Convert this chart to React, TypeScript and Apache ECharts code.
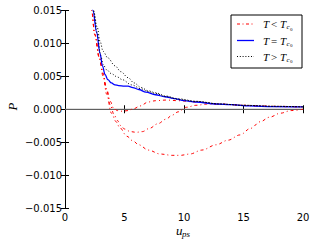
import React, { useEffect, useRef } from "react";
import * as echarts from "echarts";

const xTicks = [0, 5, 10, 15, 20];
const yTicks = [-0.015, -0.01, -0.005, 0, 0.005, 0.01, 0.015];

const uRedA = [2.0, 2.24, 2.5, 2.9, 3.2, 3.5, 3.8, 4.1, 4.4, 4.8, 5.3, 5.8, 6.3, 7.0, 7.6, 8.5, 9.5, 11, 13, 15, 17.5, 20];
const pRedA = [0.019, 0.015, 0.0114, 0.0078, 0.0055, 0.0031, 0.0012, 0.0001, -0.0002, -0.0003, -0.0002, 0.0001, 0.0005, 0.0011, 0.0013, 0.0014, 0.0013, 0.0011, 0.0008, 0.0006, 0.00045, 0.00036];

const uRedB = [2.0, 2.24, 2.5, 2.9, 3.2, 3.5, 3.8, 4.1, 4.4, 4.7, 5.0, 5.5, 6.0, 6.5, 7.1, 7.8, 8.5, 9.0, 9.5, 10.2, 11, 12, 14, 16, 18, 20];
const pRedB = [0.019, 0.015, 0.0114, 0.0078, 0.0053, 0.0028, 0.0007, -0.0007, -0.0017, -0.0025, -0.003, -0.0034, -0.0035, -0.0034, -0.0029, -0.0022, -0.0015, -0.0009, -0.0004, 0.0003, 0.0006, 0.0008, 0.0007, 0.0005, 0.0004, 0.00035];

const uRedC = [2.0, 2.24, 2.5, 2.9, 3.2, 3.5, 3.9, 4.3, 4.6, 5.2, 5.7, 6.2, 7.0, 8.0, 9.0, 9.7, 10.5, 11.5, 12.7, 13.7, 14.7, 15.6, 16.4, 17.2, 18.1, 19, 20];
const pRedC = [0.019, 0.015, 0.0113, 0.0076, 0.005, 0.0023, -0.0006, -0.0019, -0.0028, -0.0041, -0.0048, -0.0054, -0.0062, -0.0068, -0.007, -0.007, -0.0068, -0.0062, -0.0054, -0.0047, -0.0039, -0.0029, -0.0019, -0.0012, -0.0006, -0.0002, 0.0];

const uBlue = [2.1, 2.35, 2.66, 2.94, 3.15, 3.36, 3.6, 3.9, 4.2, 4.5, 5.0, 5.3, 5.7, 6.2, 6.8, 7.6, 8.4, 9.2, 10, 11, 12.7, 14, 15.5, 17.5, 20];
const pBlue = [0.0185, 0.015, 0.0117, 0.0085, 0.0066, 0.0053, 0.0045, 0.004, 0.0037, 0.0036, 0.0035, 0.0035, 0.0033, 0.003, 0.0026, 0.0022, 0.0019, 0.0016, 0.0013, 0.0011, 0.0008, 0.0007, 0.0005, 0.0004, 0.00035];

const uBlackA = [2.1, 2.4, 2.7, 2.95, 3.2, 3.6, 4.2, 4.7, 5.3, 5.8, 6.4, 7.0, 7.6, 8.5, 9.5, 11, 13, 15, 17.5, 20];
const pBlackA = [0.019, 0.015, 0.0125, 0.0103, 0.0088, 0.0078, 0.0066, 0.0057, 0.0048, 0.004, 0.0033, 0.0028, 0.0025, 0.002, 0.0016, 0.0012, 0.0008, 0.0006, 0.00045, 0.00036];

const uBlackB = [2.1, 2.4, 2.7, 3.0, 3.2, 3.5, 3.9, 4.4, 4.8, 5.6, 6.4, 7.0, 7.6, 8.5, 9.5, 11, 13, 15, 17.5, 20];
const pBlackB = [0.019, 0.0148, 0.0115, 0.0082, 0.0068, 0.006, 0.0054, 0.0049, 0.0045, 0.0037, 0.0031, 0.0027, 0.0024, 0.0019, 0.0015, 0.0012, 0.0008, 0.0006, 0.00045, 0.00036];

const legendLabels = ["<", "=", ">"];

const pts = (u: number[], p: number[]) => u.map((x, i) => [x, p[i]]);

function fmtY(v: number) {
  if (Math.abs(v) < 1e-9) return "0.000";
  const s = v.toFixed(3);
  return s.replace("-", "\u2212");
}

export default function App() {
  const ref = useRef<HTMLDivElement>(null);
  useEffect(() => {
    if (!ref.current) return;
    const chart = echarts.init(ref.current, null, { renderer: "svg" });
    const tickFont = { fontFamily: "DejaVu Sans", fontSize: 10, color: "#000" };
    const lineBase = { type: "line", showSymbol: false, symbol: "none", silent: true, smooth: 0.35, smoothMonotone: "x", clip: true };
    const red = { ...lineBase, lineStyle: { color: "#ff0000", width: 1, type: [3, 3, 1, 3] } };
    const black = { ...lineBase, lineStyle: { color: "#000000", width: 1, type: [1, 2] } };

    const rowY = [24, 40.5, 56.5];
    const colors = ["#ff0000", "#0000ff", "#000000"];
    const dashes: any = [[3, 2.5, 1, 2.5], null, [1, 1.8]];
    const legendEls: any[] = [
      {
        type: "rect",
        shape: { x: 231, y: 15, width: 71, height: 53 },
        style: { fill: "#fff", stroke: "#000", lineWidth: 1 },
        z: 10,
      },
    ];
    rowY.forEach((y, i) => {
      legendEls.push({
        type: "line",
        shape: { x1: 237, y1: y, x2: 254, y2: y },
        style: { stroke: colors[i], lineWidth: i === 1 ? 1.3 : 1, lineDash: dashes[i] },
        z: 11,
      });
      const serif = "Liberation Serif";
      legendEls.push({ type: "text", x: 263, y, style: { text: "T", font: `italic 11px "${serif}"`, fill: "#000", verticalAlign: "middle" }, z: 11 });
      legendEls.push({ type: "text", x: 271, y, style: { text: legendLabels[i], font: `11px "${serif}"`, fill: "#000", verticalAlign: "middle" }, z: 11 });
      legendEls.push({ type: "text", x: 280, y, style: { text: "T", font: `italic 11px "${serif}"`, fill: "#000", verticalAlign: "middle" }, z: 11 });
      legendEls.push({ type: "text", x: 286.5, y: y + 3, style: { text: "c", font: `italic 7px "${serif}"`, fill: "#000", verticalAlign: "middle" }, z: 11 });
      legendEls.push({ type: "text", x: 290, y: y + 5, style: { text: "0", font: `5px "${serif}"`, fill: "#000", verticalAlign: "middle" }, z: 11 });
    });

    const option: any = {
      animation: false,
      grid: { left: 65, top: 10.5, width: 238, height: 197.5, show: false },
      xAxis: [
        {
          type: "value", min: 0, max: 20, interval: 5, position: "bottom",
          axisLine: { show: true, lineStyle: { color: "#000", width: 1 } },
          axisTick: { show: true, inside: true, length: 4, lineStyle: { color: "#000" } },
          axisLabel: { ...tickFont, margin: 4, formatter: (v: number) => (xTicks.includes(v) ? String(v) : "") },
          splitLine: { show: false },
        },
        {
          type: "value", min: 0, max: 20, interval: 5, position: "top",
          axisLine: { show: true, lineStyle: { color: "#000", width: 1 } },
          axisTick: { show: true, inside: true, length: 4, lineStyle: { color: "#000" } },
          axisLabel: { show: false },
          splitLine: { show: false },
        },
      ],
      yAxis: [
        {
          type: "value", min: -0.015, max: 0.015, interval: 0.005, position: "left",
          axisLine: { show: true, lineStyle: { color: "#000", width: 1 } },
          axisTick: { show: true, inside: true, length: 4, lineStyle: { color: "#000" } },
          axisLabel: { ...tickFont, margin: 3, formatter: (v: number) => fmtY(yTicks.reduce((a, b) => (Math.abs(b - v) < Math.abs(a - v) ? b : a))) },
          splitLine: { show: false },
        },
        {
          type: "value", min: -0.015, max: 0.015, interval: 0.005, position: "right",
          axisLine: { show: true, lineStyle: { color: "#000", width: 1 } },
          axisTick: { show: true, inside: true, length: 4, lineStyle: { color: "#000" } },
          axisLabel: { show: false },
          splitLine: { show: false },
        },
      ],
      series: [
        { type: "line", silent: true, symbol: "none", data: [[0, 0], [20, 0]], lineStyle: { color: "#808080", width: 1 } },
        { ...red, name: "T<Tc", data: pts(uRedA, pRedA) },
        { ...red, name: "T<Tc", data: pts(uRedB, pRedB) },
        { ...red, name: "T<Tc", data: pts(uRedC, pRedC) },
        { ...lineBase, name: "T=Tc", data: pts(uBlue, pBlue), lineStyle: { color: "#0000ff", width: 1.3 } },
        { ...black, name: "T>Tc", data: pts(uBlackA, pBlackA) },
        { ...black, name: "T>Tc", data: pts(uBlackB, pBlackB) },
      ],
      graphic: [
        ...legendEls,
        {
          type: "text", x: 12.5, y: 106.5, rotation: Math.PI / 2,
          style: { text: "P", font: 'italic 13px "Liberation Serif"', fill: "#000", align: "center", verticalAlign: "middle" },
        },
        { type: "text", x: 176, y: 230, style: { text: "u", font: 'italic 13px "Liberation Serif"', fill: "#000", verticalAlign: "middle" } },
        { type: "text", x: 182, y: 233.5, style: { text: "ps", font: 'italic 9px "Liberation Serif"', fill: "#000", verticalAlign: "middle" } },
      ],
    };
    chart.setOption(option);
    return () => chart.dispose();
  }, []);
  return <div ref={ref} style={{ width: 316, height: 246, position: "absolute", left: 0, top: 0 }} />;
}
